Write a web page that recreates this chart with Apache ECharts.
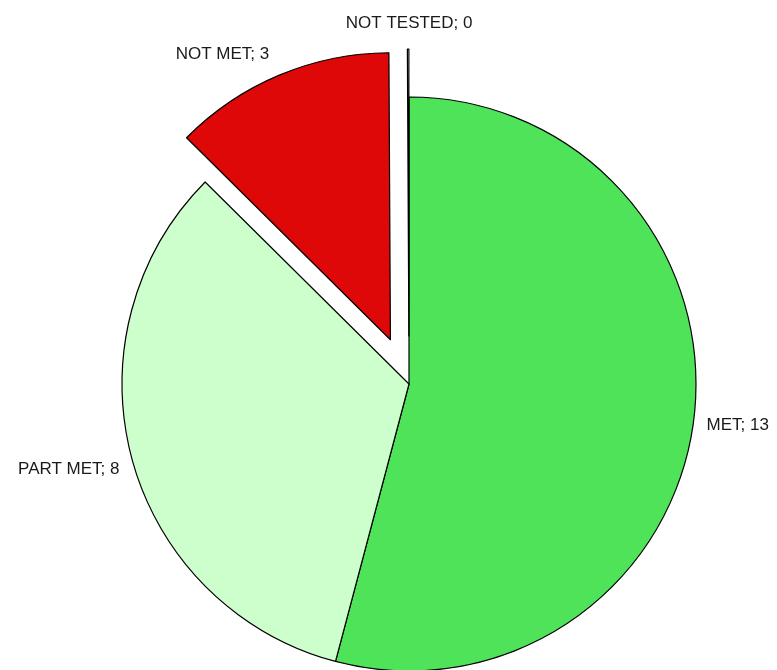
<!DOCTYPE html>
<html>
<head>
<meta charset="utf-8">
<script src="https://cdn.jsdelivr.net/npm/echarts@6/dist/echarts.min.js"></script>
<style>
html,body{margin:0;padding:0;background:#fff;}
#chart{width:777px;height:670px;}
</style>
</head>
<body>
<div id="chart"></div>
<script>
const categories = ['MET', 'PART MET', 'NOT MET', 'NOT TESTED'];
const values = [13, 8, 3, 0];
const colors = ['#4FE35A', '#CCFFCC', '#DE0808', '#FFFFFF'];
const exploded = [false, false, true, true];

// label nudges (styling only)
const labelNudgeX = [-5, 5, 0, 6];
const labelNudgeY = [3, 7, -9, -13];
const labelAlign = ['left', 'right', 'right', 'center'];

const chart = echarts.init(document.getElementById('chart'), null, {renderer: 'canvas'});
chart.setOption({
  animation: false,
  backgroundColor: '#ffffff',
  series: [{
    type: 'pie',
    center: [409, 384],
    radius: [0, 287],
    startAngle: 90,
    clockwise: true,
    selectedMode: 'multiple',
    selectedOffset: 48,
    avoidLabelOverlap: false,
    minAngle: 0.3,
    stillShowZeroSum: true,
    emphasis: {disabled: true},
    itemStyle: {borderColor: '#000', borderWidth: 1.2},
    label: {
      show: true,
      position: 'outside',
      formatter: '{b}; {c}',
      color: '#1a1a1a',
      fontFamily: 'Liberation Sans, Arial, sans-serif',
      fontSize: 17
    },
    labelLine: {show: false, length: 13, length2: 0},
    labelLayout: function (p) {
      const i = p.dataIndex;
      const r = p.labelRect;
      let out = {dx: labelNudgeX[i], dy: labelNudgeY[i]};
      if (labelAlign[i] === 'center') {
        out.x = r.x + (p.align === 'right' ? r.width : 0);
        out.align = 'center';
      }
      return out;
    },
    data: categories.map((c, i) => ({
      name: c,
      value: values[i],
      selected: exploded[i],
      itemStyle: {color: colors[i]}
    }))
  }]
});
</script>
</body>
</html>
